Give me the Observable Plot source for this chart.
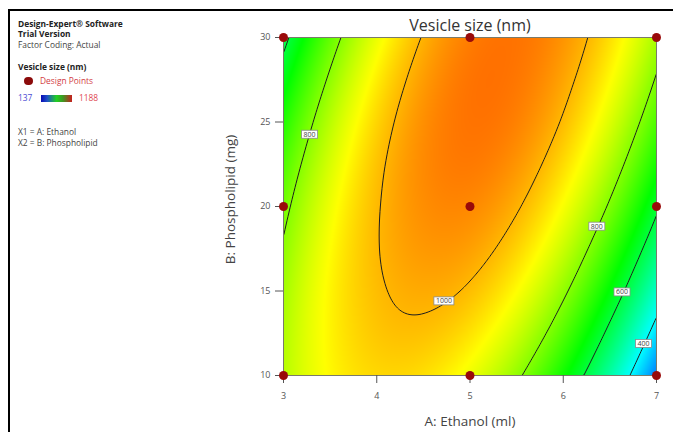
<!DOCTYPE html>
<html>
<head>
<meta charset="utf-8">
<script src="https://cdn.jsdelivr.net/npm/d3@7"></script>
<script src="https://cdn.jsdelivr.net/npm/@observablehq/plot@0.6"></script>
<style>
  html, body { margin: 0; padding: 0; background: #fff; overflow: hidden; }
  #wrap { position: relative; width: 673px; height: 432px; font-family: "Open Sans", sans-serif; }
  #chart { position: absolute; left: 0; top: 0; }
  #border { position: absolute; left: 8px; top: 9px; width: 700px; height: 460px; border-top: 2px solid #000; border-left: 2px solid #000; }
  .pt { position: absolute; font-size: 8.4px; line-height: 10px; color: #444; white-space: nowrap; }
  .b { font-weight: bold; color: #222; }
</style>
</head>
<body>
<div id="wrap">
  <div id="chart"></div>
  <div id="border"></div>
  <div class="pt b" style="left:18px;top:19px;">Design-Expert® Software</div>
  <div class="pt b" style="left:18px;top:29px;">Trial Version</div>
  <div class="pt" style="left:18px;top:39.5px;">Factor Coding: Actual</div>
  <div class="pt b" style="left:18px;top:61.5px;">Vesicle size (nm)</div>
  <div style="position:absolute;left:24px;top:76.5px;width:8.5px;height:8.5px;border-radius:50%;background:#8b0a0a;"></div>
  <div class="pt" style="left:40px;top:75.5px;color:#d23c44;">Design Points</div>
  <div class="pt" style="left:18px;top:93px;color:#4b4bd2;">137</div>
  <div style="position:absolute;left:41px;top:95px;width:31px;height:7px;background:linear-gradient(90deg,#0a0ab4,#1e50c8 20%,#22d022 50%,#3c9a22 70%,#c81e1e);"></div>
  <div class="pt" style="left:79px;top:93px;color:#e04850;">1188</div>
  <div class="pt" style="left:18px;top:126.5px;">X1 = A: Ethanol</div>
  <div class="pt" style="left:18px;top:138px;">X2 = B: Phospholipid</div>
</div>
<script>
// Factor levels of the read-off grid
const ethanol = [3, 3.5, 4, 4.5, 5, 5.5, 6, 6.5, 7];
const phospholipid = [10, 12.5, 15, 17.5, 20, 22.5, 25, 27.5, 30];
// Vesicle size (nm), one row per phospholipid level
const size_y10   = [850, 930, 964, 957, 908, 814, 675, 492, 265];
const size_y12_5 = [844, 935, 982, 988, 954, 874, 749, 578, 364];
const size_y15   = [830, 934, 992, 1012, 992, 926, 814, 657, 456];
const size_y17_5 = [808, 925, 997, 1030, 1023, 970, 871, 727, 540];
const size_y20   = [778, 909, 995, 1041, 1046, 1006, 920, 790, 615];
const size_y22_5 = [740, 885, 986, 1045, 1062, 1034, 961, 844, 683];
const size_y25   = [693, 853, 968, 1040, 1069, 1054, 994, 890, 742];
const size_y27_5 = [639, 812, 941, 1026, 1068, 1065, 1018, 928, 793];
const size_y30   = [576, 763, 905, 1004, 1058, 1069, 1035, 958, 836];
const sizeRows = [size_y10, size_y12_5, size_y15, size_y17_5, size_y20, size_y22_5, size_y25, size_y27_5, size_y30];

const contourLevels = [400, 600, 800, 1000];
const contourLabelText = ["800", "1000", "800", "600", "400"];
const contourLabelX = [3.28, 4.72, 6.36, 6.63, 6.86];
const contourLabelY = [24.26, 14.4, 18.82, 14.93, 11.88];

const designX = [3, 3, 3, 5, 5, 5, 7, 7, 7];
const designY = [10, 20, 30, 10, 20, 30, 10, 20, 30];

const xTicks = [3, 4, 5, 6, 7];
const yTicks = [10, 15, 20, 25, 30];
const colorMin = 137, colorMax = 1188;
const colorStops = ["#0000ff", "#00ffff", "#00ff00", "#ffff00", "#ff0000"];

const titleText = "Vesicle size (nm)";
const xLabel = "A: Ethanol (ml)";
const yLabel = "B: Phospholipid (mg)";

const grid = [];
phospholipid.forEach((y, j) => ethanol.forEach((x, i) => grid.push({x, y, v: sizeRows[j][i]})));
const labels = contourLabelText.map((t, i) => ({t, x: contourLabelX[i], y: contourLabelY[i]}));
const design = designX.map((x, i) => ({x, y: designY[i]}));

// Smooth (Catmull-Rom bicubic) raster interpolation over the regular read-off grid
function gridInterpolate(index, width, height, X, Y, V) {
  const nx = ethanol.length, ny = phospholipid.length;
  const val = (i, j) => +V[index[j * nx + i]];
  const ext = (p) => {
    const n = p.length;
    return [3 * p[0] - 3 * p[1] + p[2], ...p, 3 * p[n - 1] - 3 * p[n - 2] + p[n - 3]];
  };
  const rows = [];
  for (let j = 0; j < ny; ++j) rows.push(ext(d3.range(nx).map(i => val(i, j))));
  const cols = d3.range(nx + 2).map(i => ext(rows.map(r => r[i])));
  const E = [];
  for (let j = 0; j < ny + 2; ++j) E.push(cols.map(c => c[j]));
  const xa = X[index[0]], xb = X[index[nx - 1]];
  const ya = Y[index[0]], yb = Y[index[(ny - 1) * nx]];
  const w = t => {
    const t2 = t * t, t3 = t2 * t;
    return [(-t3 + 2 * t2 - t) / 2, (3 * t3 - 5 * t2 + 2) / 2, (-3 * t3 + 4 * t2 + t) / 2, (t3 - t2) / 2];
  };
  const F = new Float64Array(width * height);
  for (let py = 0; py < height; ++py) {
    let v = (py + 0.5 - ya) / (yb - ya) * (ny - 1);
    v = Math.max(0, Math.min(ny - 1, v));
    const j = Math.min(Math.floor(v), ny - 2), wy = w(v - j);
    for (let px = 0; px < width; ++px) {
      let u = (px + 0.5 - xa) / (xb - xa) * (nx - 1);
      u = Math.max(0, Math.min(nx - 1, u));
      const i = Math.min(Math.floor(u), nx - 2), wx = w(u - i);
      let s = 0;
      for (let b = 0; b < 4; ++b) {
        const row = E[j + b];
        s += wy[b] * (wx[0] * row[i] + wx[1] * row[i + 1] + wx[2] * row[i + 2] + wx[3] * row[i + 3]);
      }
      F[py * width + px] = s;
    }
  }
  return F;
}

const extent = {x1: 3, x2: 7, y1: 10, y2: 30};

const chart = Plot.plot({
  width: 673, height: 432,
  marginLeft: 283, marginRight: 17, marginTop: 37, marginBottom: 57,
  style: {fontFamily: "'Open Sans', sans-serif", background: "transparent"},
  x: {domain: [3, 7]},
  y: {domain: [10, 30]},
  color: {type: "linear", domain: [colorMin, colorMax], interpolate: d3.piecewise(d3.interpolateRgb, colorStops)},
  marks: [
    Plot.raster(grid, {x: "x", y: "y", fill: "v", interpolate: gridInterpolate, ...extent}),
    Plot.contour(grid, {x: "x", y: "y", value: "v", interpolate: gridInterpolate, pixelSize: 1, thresholds: contourLevels, ...extent, fill: "none", stroke: "#1e1e1e", strokeWidth: 1}),
    Plot.frame({stroke: "#7a7a6a"}),
    Plot.axisX({ticks: xTicks, tickFormat: d => String(d), tickSize: 8, tickPadding: 9, fontSize: 9, color: "#555", label: null}),
    Plot.axisY({ticks: yTicks, tickFormat: d => String(d), tickSize: 8, tickPadding: 5, fontSize: 9, color: "#555", label: null}),
    Plot.text(labels, {x: "x", y: "y", text: "t", fontSize: 7, fill: "#444", className: "clabel"}),
    Plot.dot(design, {x: "x", y: "y", r: 4.5, fill: "#990a0a", clip: false}),
    Plot.text([titleText], {frameAnchor: "top", textAnchor: "middle", dy: -12, lineAnchor: "middle", fontSize: 16, fill: "#333"}),
    Plot.text([xLabel], {frameAnchor: "bottom", textAnchor: "middle", dy: 46, lineAnchor: "middle", fontSize: 13.5, fill: "#444"}),
    Plot.text([yLabel], {frameAnchor: "left", textAnchor: "middle", dx: -53, dy: -7, rotate: -90, lineAnchor: "middle", fontSize: 13.5, fill: "#444"})
  ]
});
document.getElementById("chart").appendChild(chart);

// white boxes behind the contour labels
d3.select(chart).selectAll("g.clabel text").each(function () {
  const b = this.getBBox();
  const r = document.createElementNS("http://www.w3.org/2000/svg", "rect");
  r.setAttribute("x", b.x - 2);
  r.setAttribute("y", b.y + 0.5);
  r.setAttribute("width", b.width + 4);
  r.setAttribute("height", b.height - 1);
  r.setAttribute("fill", "#fff");
  r.setAttribute("stroke", "#8a8a8a");
  r.setAttribute("stroke-width", "0.8");
  const tr = this.getAttribute("transform");
  if (tr) r.setAttribute("transform", tr);
  this.parentNode.insertBefore(r, this);
});
</script>
</body>
</html>
